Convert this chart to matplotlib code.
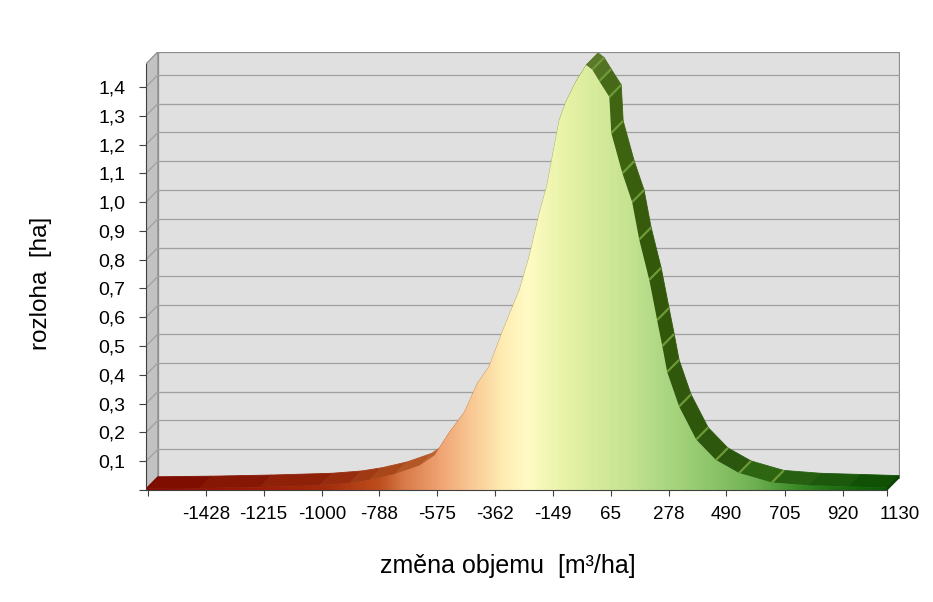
import numpy as np
import matplotlib.pyplot as plt
from matplotlib.colors import LinearSegmentedColormap
from matplotlib.patches import Polygon
from matplotlib.collections import PolyCollection

plt.rcParams['font.family'] = ['Liberation Sans', 'DejaVu Sans']

# values: volume change [m3/ha] -> area [ha]
objem = [-1648, -1450, -1229, -1008, -898, -824, -732, -640, -585, -530,
         -475, -427, -383, -335, -272, -236, -199, -170, -151, -125,
         -100, -63, -26, -4, 22, 59, 66, 107, 143, 169,
         206, 235, 254, 272, 316, 379, 452, 537, 658, 795,
         942, 1082]
rozloha = [0.004, 0.006, 0.010, 0.016, 0.024, 0.035, 0.055, 0.085, 0.12, 0.20,
           0.27, 0.37, 0.43, 0.55, 0.695, 0.81, 0.96, 1.06, 1.157, 1.285,
           1.35, 1.42, 1.476, 1.46, 1.42, 1.365, 1.24, 1.10, 1.00, 0.87,
           0.73, 0.59, 0.50, 0.41, 0.29, 0.175, 0.104, 0.059, 0.026, 0.016,
           0.012, 0.008]

x_ticks = [-1428, -1215, -1000, -788, -575, -362, -149, 65, 278, 490, 705, 920, 1130]
y_ticks = [0.0, 0.1, 0.2, 0.3, 0.4, 0.5, 0.6, 0.7, 0.8, 0.9, 1.0, 1.1, 1.2, 1.3, 1.4]

# front fill gradient along x
grad_pos = [-1648, -1000, -788, -700, -575, -450, -330, -240, -120, 0,
            150, 300, 450, 600, 750, 900, 1082]
grad_col = ['#8a0800', '#a32a0a', '#be4e1e', '#d77a48', '#efa070', '#f9c894',
            '#ffedb4', '#fffbc4', '#eaf4aa', '#d8ec9c', '#c2e290', '#a6d47e',
            '#8cc468', '#6eb052', '#3c8c28', '#1c7010', '#0a5a04']
# top (depth) face colours
top_pos = [-1648, -1000, -788, -575, -400, -150, -40, 60, 200, 450, 700, 1082]
top_col = ['#7c0a00', '#92260a', '#a8461a', '#c06a34', '#c8a060', '#a8b860',
           '#7e9e42', '#4e7a16', '#3e6a0c', '#356a10', '#2a6212', '#0c4e04']

x = np.array(objem, dtype=float)
y = np.array(rozloha)
x0, xe = x[0], x[-1]
DX, DY = 44.0, 0.042          # 3d depth offset
YTOP = 1.48

px_x = 1 / 3.679                # px per unit along x
px_y = 287.9                    # px per ha

fig = plt.figure(figsize=(9.33, 6.02), dpi=100)
w_px = (xe + DX - x0) * px_x
h_px = (YTOP + DY) * px_y
ax = fig.add_axes([146 / 933, 1 - 490 / 602, w_px / 933, h_px / 602])
ax.patch.set_visible(False)

# walls
ax.add_patch(Polygon([(x0 + DX, DY), (xe + DX, DY), (xe + DX, YTOP + DY), (x0 + DX, YTOP + DY)],
                     closed=True, facecolor='#e0e0e0', edgecolor='#8c8c8c', lw=0.9, zorder=1))
ax.add_patch(Polygon([(x0, 0), (x0 + DX, DY), (x0 + DX, YTOP + DY), (x0, YTOP)],
                     closed=True, facecolor='#c2c2c2', edgecolor='#8c8c8c', lw=0.9, zorder=1))
ax.add_patch(Polygon([(x0, 0), (xe, 0), (xe + DX, DY), (x0 + DX, DY)],
                     closed=True, facecolor='#c2c2c2', edgecolor='#8c8c8c', lw=0.9, zorder=1))
for v in y_ticks[1:]:
    ax.plot([x0 + DX, xe + DX], [v + DY, v + DY], color='#a0a0a0', lw=0.9, zorder=2)
    ax.plot([x0, x0 + DX], [v, v + DY], color='#a0a0a0', lw=0.9, zorder=2)

def norm(p):
    return (p - x0) / (xe - x0)

cmap = LinearSegmentedColormap.from_list('obj', list(zip([norm(p) for p in grad_pos], grad_col)))
tmap = LinearSegmentedColormap.from_list('top', list(zip([norm(p) for p in top_pos], top_col)))

# top face of the 3d area
quads, cols = [], []
for i in range(len(x) - 1):
    xa, xb, ya, yb = x[i], x[i + 1], y[i], y[i + 1]
    quads.append([(xa, ya), (xb, yb), (xb + DX, yb + DY), (xa + DX, ya + DY)])
    s = (yb - ya) * px_y / ((xb - xa) * px_x)
    f = 1.0 if s >= -0.3 else 0.82
    cols.append(np.array(tmap(norm((xa + xb) / 2))[:3]) * f)
quads.append([(x0, 0), (x0, y[0]), (x0 + DX, y[0] + DY), (x0 + DX, DY)])
cols.append(np.array(tmap(0.0)[:3]))
quads.append([(xe, 0), (xe, y[-1]), (xe + DX, y[-1] + DY), (xe + DX, DY)])
cols.append(np.array(tmap(1.0)[:3]) * 0.85)
ax.add_collection(PolyCollection(quads, facecolors=cols, edgecolors=cols, lw=0.6, zorder=3))

# lighter step edges on the falling side
for xi, yi in zip(x[23:-3], y[23:-3]):
    ax.plot([xi, xi + DX], [yi, yi + DY], color='#6e9a38', lw=1.6, zorder=3.5,
            solid_capstyle='butt')

# front face with gradient
front = Polygon(np.vstack([[x0, 0], np.column_stack([x, y]), [xe, 0]]),
                closed=True, facecolor='none', edgecolor='none', zorder=4)
ax.add_patch(front)
grad = np.linspace(0, 1, 800)[None, :]
im = ax.imshow(grad, cmap=cmap, extent=(x0, xe, 0, YTOP), aspect='auto',
               interpolation='bilinear', zorder=4)
im.set_clip_path(front)
ax.set_xlim(x0, xe + DX)
ax.set_ylim(0, YTOP + DY)

# axes
for side in ['top', 'right']:
    ax.spines[side].set_visible(False)
ax.spines['left'].set_bounds(0, YTOP)
ax.spines['bottom'].set_bounds(x0, xe)
for side in ['left', 'bottom']:
    ax.spines[side].set_color('#404040')
    ax.spines[side].set_zorder(5)

ax.set_yticks(y_ticks)
ax.set_yticklabels([''] + [f'{v:.1f}'.replace('.', ',') for v in y_ticks[1:]])
ax.set_xticks(x_ticks)
ax.set_xticklabels([str(v) for v in x_ticks])
ax.set_xticks([-1641, xe], minor=True)
ax.xaxis.get_major_ticks()[-1].tick1line.set_visible(False)
ax.tick_params(axis='y', direction='out', length=5, width=0.8, color='#404040',
               labelsize=14, pad=10)
ax.tick_params(axis='x', which='both', direction='out', length=4.5, width=0.8,
               color='#404040', labelsize=13.5, pad=7)

fig.text(41 / 933, 1 - 283 / 602, 'rozloha  [ha]', rotation=90, ha='center',
         va='center', fontsize=17.5)
fig.text(508 / 933, 1 - 566 / 602, 'změna objemu  [m³/ha]', ha='center',
         va='center', fontsize=18)

fig.savefig('out.png', dpi=100, facecolor='white')
